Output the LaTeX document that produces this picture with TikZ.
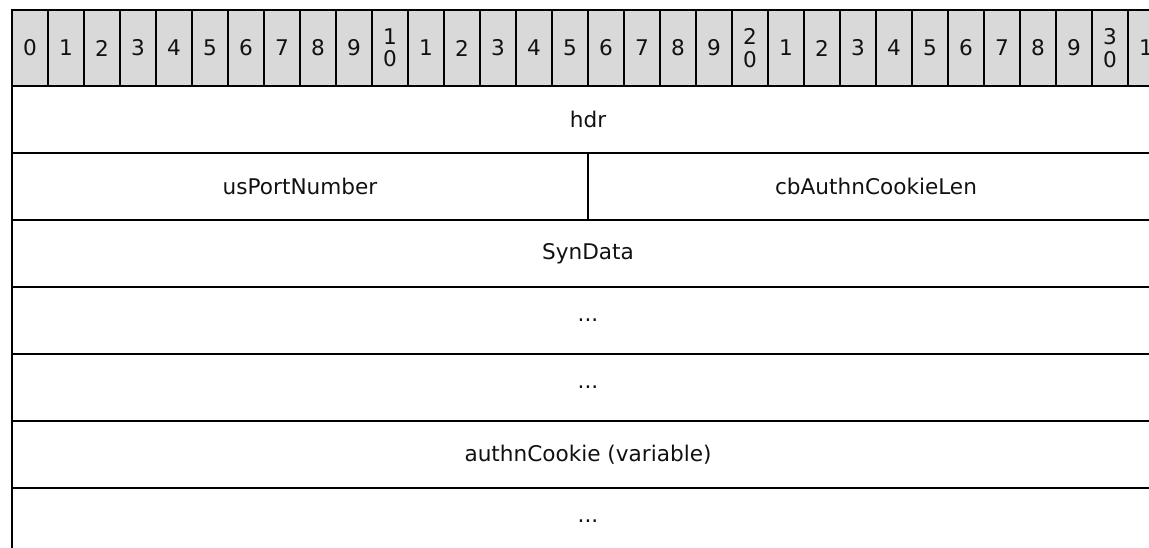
\documentclass[tikz,border=0pt]{standalone}
\usepackage{fontspec}
\setmainfont{DejaVu Sans}
\definecolor{hdrgray}{HTML}{D9D9D9}
\definecolor{txt}{HTML}{111111}
\begin{document}
\begin{tikzpicture}[x=0.75pt,y=-0.75pt,
  lbl/.style={font=\fontsize{16.2}{16.8}\selectfont, text=txt},
  bitcell/.style={lbl, draw, line width=1.5pt, fill=hdrgray, minimum width=27pt,
    minimum height=57pt, inner sep=0pt, align=center},
  field/.style={lbl, draw, line width=1.5pt, minimum height=50.25pt, inner sep=0pt},
  fullfield/.style={field, minimum width=864pt},
  halffield/.style={field, minimum width=432pt}]
\useasboundingbox (0,0) rectangle (1149,548);
\foreach \i in {0,...,31}{
  \pgfmathtruncatemacro\d{mod(\i,10)}
  \pgfmathtruncatemacro\t{\i/10}
  \ifnum\i>0
    \ifnum\d=0
      \node[bitcell] (b\i) at ({30+36*\i},48) {\t\\0};
    \else
      \node[bitcell] (b\i) at ({30+36*\i},48) {\d};
    \fi
  \else
    \node[bitcell] (b\i) at ({30+36*\i},48) {\d};
  \fi
}
\node[fullfield] (hdr) at (588,119.5) {hdr};
\node[halffield] (port) at (300,186.5) {usPortNumber};
\node[halffield] (cblen) at (876,186.5) {cbAuthnCookieLen};
\node[fullfield] (syn) at (588,253.5) {SynData};
\node[fullfield] (dots1) at (588,320.5) {...};
\node[fullfield] (dots2) at (588,387.5) {...};
\node[fullfield] (cookie) at (588,454.5) {authnCookie (variable)};
\node[fullfield] (dots3) at (588,521.5) {...};
\end{tikzpicture}
\end{document}
